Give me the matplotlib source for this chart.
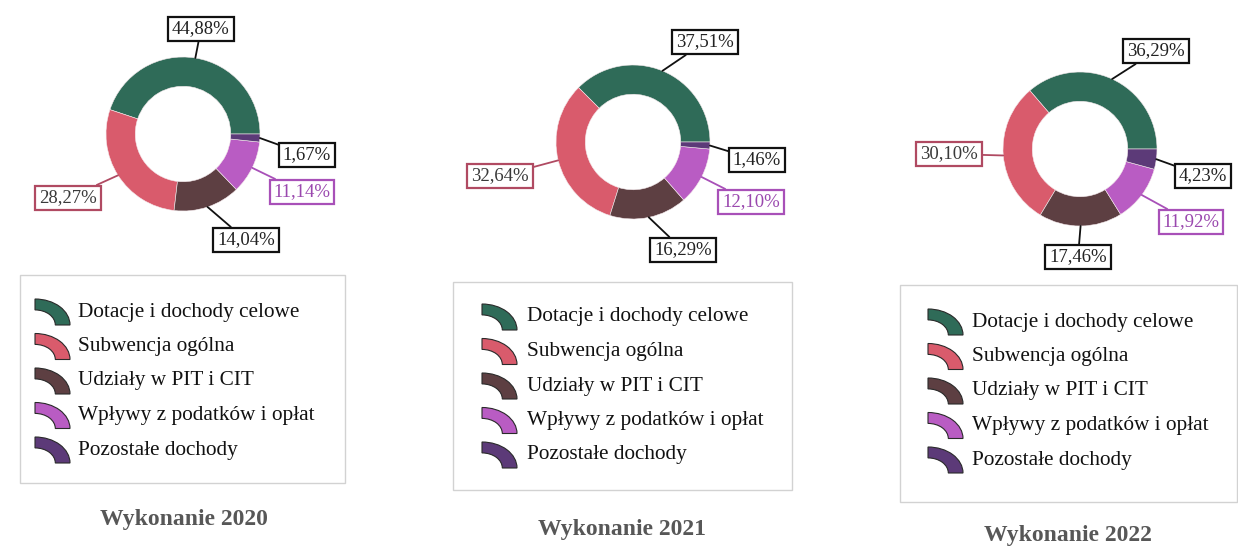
import numpy as np
import matplotlib
matplotlib.use('Agg')
import matplotlib.pyplot as plt
from matplotlib.patches import Wedge, Rectangle
from matplotlib.transforms import Affine2D

plt.rcParams['font.family'] = ['Liberation Serif', 'DejaVu Serif']

W, H = 1238, 546

years = ['2020', '2021', '2022']
categories = ['Dotacje i dochody celowe', 'Subwencja ogólna', 'Udziały w PIT i CIT',
              'Wpływy z podatków i opłat', 'Pozostałe dochody']
shares_2020 = [44.88, 28.27, 14.04, 11.14, 1.67]
shares_2021 = [37.51, 32.64, 16.29, 12.10, 1.46]
shares_2022 = [36.29, 30.10, 17.46, 11.92, 4.23]
shares = [shares_2020, shares_2021, shares_2022]

colors = ['#2f6b58', '#d95b6c', '#5d3f42', '#b95cc3', '#5c3a78']
# label box styles (edge colour, text colour) per category
box_edge = ['#111111', '#b04a62', '#111111', '#a850b8', '#111111']
box_text = ['#222222', '#3a3a3a', '#222222', '#9a48ae', '#222222']

# layout in image pixels (origin top-left)
centers = [(183, 134), (633, 142), (1080, 149)]
r_px = 77
label_pos = [
    [(201, 29), (68, 198), (246, 240), (302, 192), (307, 155)],
    [(705, 42), (500, 176), (683, 250), (751, 202), (757, 160)],
    [(1156, 51), (949, 154), (1078, 257), (1191, 222), (1203, 176)],
]
legend_boxes = [(20, 275, 345, 483), (453, 282, 792, 490), (900, 285, 1237, 502)]
legend_icon_x = [35, 482, 928]
legend_text_x = [78, 527, 972]
legend_row0 = [312, 317, 322]
row_step = 34.5
title_pos = [(184, 519), (622, 529), (1068, 535)]

fig = plt.figure(figsize=(W / 100, H / 100), dpi=100)
fig.patch.set_facecolor('white')

# overlay axes in pixel coordinates
ov = fig.add_axes([0, 0, 1, 1])
ov.set_xlim(0, W)
ov.set_ylim(H, 0)
ov.axis('off')

for k, year in enumerate(years):
    cx, cy = centers[k]
    ax = fig.add_axes([(cx - r_px) / W, (H - cy - r_px) / H, 2 * r_px / W, 2 * r_px / H])
    wedges, _ = ax.pie(shares[k], colors=colors, startangle=0, counterclock=True,
                       radius=1, wedgeprops=dict(width=0.38, edgecolor='#f4e9ec', linewidth=0.4))
    ax.set_xlim(-1, 1)
    ax.set_ylim(-1, 1)
    ax.set_aspect('equal')
    ax.axis('off')

    for i, w in enumerate(wedges):
        mid = np.deg2rad((w.theta1 + w.theta2) / 2)
        txt = f"{shares[k][i]:.2f}".replace('.', ',') + '%'
        ax.annotate(txt, xy=(np.cos(mid), np.sin(mid)), xycoords='data',
                    xytext=label_pos[k][i], textcoords=ov.transData,
                    ha='center', va='center', fontsize=13.5, color=box_text[i],
                    bbox=dict(boxstyle='square,pad=0.2', fc='white', ec=box_edge[i], lw=1.6),
                    arrowprops=dict(arrowstyle='-', color=box_edge[i], lw=1.3,
                                    shrinkA=0, shrinkB=0),
                    annotation_clip=False)

    # legend frame
    x0, y0, x1, y1 = legend_boxes[k]
    ov.add_patch(Rectangle((x0, y0), x1 - x0, y1 - y0, fill=False, ec='#d2d2d2', lw=1))
    for i, name in enumerate(categories):
        ry = legend_row0[k] + i * row_step
        ix = legend_icon_x[k]
        tr = Affine2D().scale(35, 26).translate(ix, ry + 13) + ov.transData
        ov.add_patch(Wedge((0, 0), 1, 270, 360, width=0.42, fc=colors[i],
                           ec='#2a2a2a', lw=0.8, transform=tr))
        ov.text(legend_text_x[k], ry, name, fontsize=15.3, ha='left', va='center', color='#111111')

    tx, ty = title_pos[k]
    ov.text(tx, ty, 'Wykonanie ' + year, fontsize=17, fontweight='bold',
            ha='center', va='center', color='#575757')

fig.savefig('out.png', dpi=100)
